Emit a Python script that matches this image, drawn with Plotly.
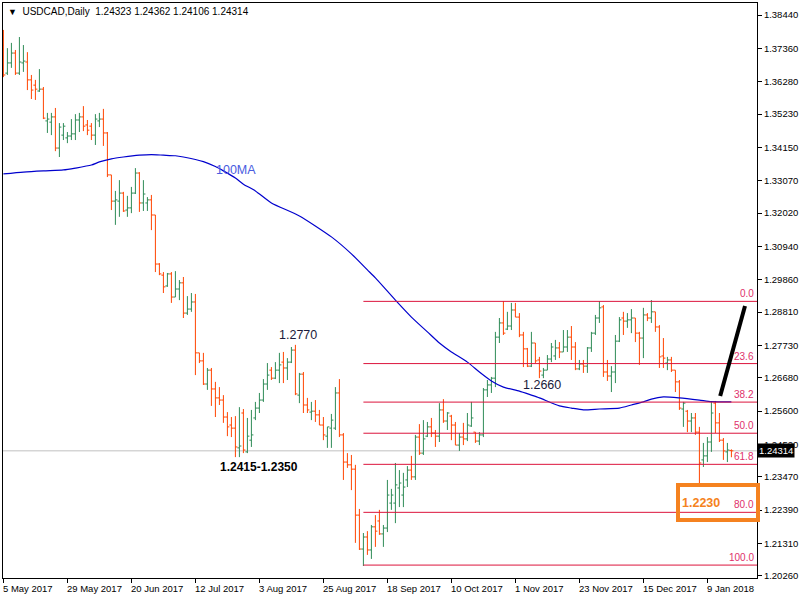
import plotly.graph_objects as go

# ---------------- data (USDCAD daily) ----------------
open_ = [1.3747,1.3656,1.3689,1.3721,1.3656,1.3689,1.3692,1.3634,1.3617,1.3598,
         1.3604,1.3501,1.3497,1.3514,1.3413,1.3455,1.3446,1.3452,1.3459,1.3504,
         1.3514,1.3488,1.3484,1.3455,1.3501,1.3507,1.3462,1.3326,1.3241,1.3241,
         1.3267,1.3212,1.3219,1.3267,1.3332,1.3235,1.3235,1.3245,1.3196,1.3037,
         1.3001,1.2966,1.3005,1.2930,1.2956,1.2976,1.2878,1.2891,1.2914,1.2749,
         1.2723,1.2648,1.2693,1.2632,1.2603,1.2596,1.2541,1.2515,1.2505,1.2441,
         1.2554,1.2428,1.2466,1.2538,1.2570,1.2596,1.2648,1.2693,1.2667,1.2693,
         1.2719,1.2700,1.2719,1.2758,1.2612,1.2680,1.2580,1.2557,1.2560,1.2548,
         1.2515,1.2479,1.2505,1.2505,1.2619,1.2483,1.2395,1.2386,1.2372,1.2223,
         1.2113,1.2152,1.2110,1.2185,1.2204,1.2162,1.2181,1.2262,1.2262,1.2311,
         1.2288,1.2337,1.2369,1.2347,1.2476,1.2424,1.2479,1.2509,1.2489,1.2479,
         1.2564,1.2528,1.2544,1.2515,1.2450,1.2476,1.2470,1.2512,1.2492,1.2463,
         1.2483,1.2629,1.2645,1.2667,1.2800,1.2846,1.2826,1.2836,1.2888,1.2865,
         1.2807,1.2762,1.2706,1.2781,1.2726,1.2677,1.2693,1.2729,1.2739,1.2765,
         1.2752,1.2768,1.2800,1.2768,1.2697,1.2713,1.2706,1.2765,1.2813,1.2862,
         1.2898,1.2687,1.2674,1.2687,1.2787,1.2862,1.2852,1.2856,1.2862,1.2813,
         1.2797,1.2872,1.2862,1.2882,1.2833,1.2739,1.2716,1.2726,1.2693,1.2655,
         1.2567,1.2560,1.2528,1.2538,1.2492,1.2402,1.2415,1.2460,1.2586,1.2522,
         1.2466,1.2428,1.24323]
high = [1.3796,1.3737,1.3754,1.3731,1.3773,1.3747,1.3724,1.3650,1.3634,1.3669,
        1.3611,1.3527,1.3527,1.3543,1.3494,1.3494,1.3465,1.3507,1.3523,1.3527,
        1.3549,1.3504,1.3494,1.3523,1.3527,1.3540,1.3465,1.3326,1.3274,1.3309,
        1.3271,1.3258,1.3287,1.3348,1.3335,1.3309,1.3254,1.3261,1.3196,1.3040,
        1.3011,1.3008,1.3011,1.3014,1.2985,1.2995,1.2933,1.2943,1.2940,1.2749,
        1.2749,1.2700,1.2700,1.2655,1.2638,1.2612,1.2557,1.2541,1.2544,1.2573,
        1.2567,1.2538,1.2564,1.2590,1.2619,1.2664,1.2716,1.2703,1.2719,1.2749,
        1.2752,1.2732,1.2768,1.2775,1.2684,1.2687,1.2603,1.2590,1.2596,1.2564,
        1.2541,1.2509,1.2551,1.2638,1.2664,1.2489,1.2424,1.2418,1.2386,1.2243,
        1.2165,1.2171,1.2191,1.2223,1.2240,1.2191,1.2337,1.2308,1.2392,1.2369,
        1.2360,1.2382,1.2415,1.2483,1.2518,1.2531,1.2525,1.2538,1.2499,1.2586,
        1.2599,1.2557,1.2548,1.2525,1.2489,1.2522,1.2554,1.2590,1.2492,1.2492,
        1.2635,1.2661,1.2671,1.2817,1.2862,1.2917,1.2882,1.2911,1.2911,1.2878,
        1.2817,1.2765,1.2817,1.2781,1.2736,1.2700,1.2742,1.2781,1.2791,1.2784,
        1.2823,1.2823,1.2836,1.2784,1.2726,1.2726,1.2768,1.2817,1.2872,1.2917,
        1.2904,1.2726,1.2706,1.2807,1.2865,1.2882,1.2878,1.2891,1.2862,1.2817,
        1.2895,1.2878,1.2920,1.2882,1.2839,1.2797,1.2736,1.2736,1.2693,1.2661,
        1.2590,1.2564,1.2554,1.2554,1.2509,1.2457,1.2476,1.2590,1.2593,1.2554,
        1.2473,1.2457,1.24362]
low = [1.3643,1.3650,1.3673,1.3650,1.3650,1.3660,1.3601,1.3572,1.3569,1.3595,
       1.3507,1.3462,1.3455,1.3403,1.3384,1.3439,1.3429,1.3439,1.3439,1.3465,
       1.3468,1.3455,1.3439,1.3423,1.3481,1.3420,1.3319,1.3212,1.3164,1.3190,
       1.3206,1.3190,1.3202,1.3264,1.3206,1.3209,1.3209,1.3147,1.3011,1.3001,
       1.2943,1.2963,1.2911,1.2930,1.2920,1.2862,1.2872,1.2882,1.2677,1.2716,
       1.2645,1.2629,1.2577,1.2541,1.2580,1.2522,1.2479,1.2476,1.2411,1.2411,
       1.2424,1.2424,1.2444,1.2531,1.2554,1.2590,1.2629,1.2661,1.2664,1.2651,
       1.2651,1.2661,1.2716,1.2612,1.2586,1.2554,1.2554,1.2531,1.2525,1.2515,
       1.2466,1.2441,1.2441,1.2499,1.2476,1.2337,1.2376,1.2304,1.2133,1.2110,
       1.2058,1.2094,1.2081,1.2120,1.2159,1.2120,1.2168,1.2240,1.2197,1.2249,
       1.2249,1.2314,1.2337,1.2337,1.2418,1.2418,1.2476,1.2476,1.2444,1.2460,
       1.2522,1.2499,1.2466,1.2450,1.2431,1.2450,1.2463,1.2509,1.2457,1.2450,
       1.2476,1.2606,1.2619,1.2638,1.2781,1.2807,1.2823,1.2823,1.2865,1.2800,
       1.2703,1.2703,1.2703,1.2716,1.2667,1.2667,1.2693,1.2719,1.2726,1.2732,
       1.2752,1.2752,1.2726,1.2693,1.2693,1.2684,1.2684,1.2752,1.2807,1.2846,
       1.2671,1.2658,1.2622,1.2651,1.2784,1.2807,1.2830,1.2813,1.2784,1.2710,
       1.2732,1.2852,1.2846,1.2817,1.2700,1.2700,1.2693,1.2687,1.2622,1.2564,
       1.2509,1.2492,1.2492,1.2483,1.2327,1.2379,1.2395,1.2428,1.2489,1.2460,
       1.2402,1.2395,1.24106]
close = [1.3650,1.3689,1.3721,1.3656,1.3692,1.3695,1.3634,1.3601,1.3604,1.3604,
         1.3510,1.3507,1.3514,1.3413,1.3481,1.3484,1.3452,1.3459,1.3504,1.3514,
         1.3484,1.3471,1.3455,1.3507,1.3507,1.3462,1.3326,1.3241,1.3245,1.3267,
         1.3209,1.3219,1.3267,1.3332,1.3235,1.3264,1.3245,1.3196,1.3037,1.3005,
         1.2963,1.3005,1.2930,1.2956,1.2976,1.2878,1.2891,1.2914,1.2749,1.2723,
         1.2648,1.2693,1.2632,1.2603,1.2596,1.2541,1.2509,1.2505,1.2444,1.2447,
         1.2434,1.2479,1.2483,1.2570,1.2596,1.2648,1.2677,1.2667,1.2693,1.2710,
         1.2700,1.2719,1.2758,1.2616,1.2680,1.2580,1.2564,1.2560,1.2548,1.2515,
         1.2483,1.2509,1.2531,1.2619,1.2483,1.2395,1.2386,1.2372,1.2223,1.2113,
         1.2152,1.2110,1.2185,1.2171,1.2162,1.2181,1.2288,1.2288,1.2321,1.2327,
         1.2314,1.2369,1.2347,1.2476,1.2424,1.2470,1.2509,1.2489,1.2479,1.2564,
         1.2528,1.2554,1.2515,1.2450,1.2476,1.2470,1.2515,1.2538,1.2463,1.2483,
         1.2629,1.2645,1.2667,1.2800,1.2846,1.2813,1.2836,1.2888,1.2865,1.2807,
         1.2762,1.2706,1.2781,1.2723,1.2690,1.2693,1.2729,1.2768,1.2765,1.2752,
         1.2768,1.2800,1.2768,1.2697,1.2713,1.2706,1.2765,1.2813,1.2862,1.2895,
         1.2687,1.2674,1.2687,1.2787,1.2856,1.2852,1.2856,1.2862,1.2813,1.2797,
         1.2872,1.2862,1.2882,1.2833,1.2736,1.2732,1.2726,1.2693,1.2655,1.2570,
         1.2586,1.2528,1.2538,1.2492,1.2392,1.2415,1.2460,1.2554,1.2522,1.2466,
         1.2431,1.2434,1.24314]

# 100-day moving average, read at sample bars
ma_idx = [0,5,10,15,18,22,24,27,30,34,37,40,43,45,48,50,53,55,58,60,
          63,67,74,82,87,91,93,98,102,106,109,112,116,119,122,125,129,132,134,139,
          142,145,149,154,157,160,162,165,169,174,177,182]
ma_val = [1.3329,1.3335,1.3339,1.3342,1.3348,1.3358,1.3368,1.3378,1.3384,1.3390,
          1.3392,1.3390,1.3388,1.3384,1.3376,1.3369,1.3353,1.3339,1.3316,1.3296,
          1.3274,1.3235,1.3193,1.3125,1.3070,1.3018,1.2992,1.2920,1.2865,1.2817,
          1.2781,1.2752,1.2719,1.2687,1.2658,1.2638,1.2625,1.2612,1.2603,1.2577,
          1.2570,1.2564,1.2567,1.2570,1.2580,1.2590,1.2599,1.2606,1.2603,1.2596,
          1.2591,1.2590]

# x axis (bar index) labels
date_tick_idx = [0,16,32,48,64,80,96,112,128,144,160,176]
date_tick_txt = ["5 May 2017","29 May 2017","20 Jun 2017","12 Jul 2017","3 Aug 2017",
                 "25 Aug 2017","18 Sep 2017","10 Oct 2017","1 Nov 2017","23 Nov 2017",
                 "15 Dec 2017","9 Jan 2018"]
y_ticks = [1.38440,1.37360,1.36280,1.35230,1.34150,1.33070,1.32020,1.30940,1.29860,
           1.28810,1.27730,1.26680,1.25600,1.24520,1.23470,1.22390,1.21310,1.20260]

# Fibonacci retracement
fib_high = 1.2916
fib_low = 1.2061
fib_start_idx = 90
fib_ratios = [0.0, 23.6, 38.2, 50.0, 61.8, 80.0, 100.0]

# annotations (text, bar index, price)
notes = [("100MA", 58.2, 1.3342), ("1.2770", 73.7, 1.2807),
         ("1.2660", 134.7, 1.2645)]
support_note = ("1.2415-1.2350", 63.9, 1.2379)
target_note = ("1.2230", 178.7, 1.2264)
arrow_start = (179.2, 1.2609)
arrow_end = (185.4, 1.2901)

x_range = [-0.1, 188.4]
y_range = [1.20191, 1.38833]

# ---------------- figure ----------------
n = len(close)
idx = list(range(n))
AX_FONT = "Liberation Sans, Arial, sans-serif"
FIB_COL = "#DC143C"

fig = go.Figure()
fig.add_trace(go.Ohlc(
    x=idx, open=open_, high=high, low=low, close=close,
    increasing=dict(line=dict(color="#2E8B57", width=1)),
    decreasing=dict(line=dict(color="#FF4500", width=1)),
    tickwidth=0.5, hoverinfo="skip", showlegend=False))
fig.add_trace(go.Scatter(
    x=ma_idx, y=ma_val, mode="lines",
    line=dict(color="#0000CD", width=1.2, shape="spline", smoothing=0.6),
    hoverinfo="skip", showlegend=False))

shapes = []
annotations = []

# current price line
shapes.append(dict(type="line", xref="paper", x0=0, x1=1, yref="y",
                   y0=close[-1], y1=close[-1], layer="below",
                   line=dict(color="#C0C0C0", width=1)))

# fib levels
for r in fib_ratios:
    lvl = fib_high - (fib_high - fib_low) * r / 100.0
    shapes.append(dict(type="line", xref="x", x0=fib_start_idx, x1=x_range[1],
                       yref="y", y0=lvl, y1=lvl,
                       line=dict(color=FIB_COL, width=1)))
    annotations.append(dict(x=1, xref="paper", xanchor="right", xshift=-1,
                            y=lvl, yref="y", yanchor="bottom", yshift=0,
                            text=f"{r:.1f}", showarrow=False,
                            font=dict(family=AX_FONT, size=10, color="#E0306A")))

# black trend stroke
shapes.append(dict(type="line", xref="x", yref="y",
                   x0=arrow_start[0], y0=arrow_start[1],
                   x1=arrow_end[0], y1=arrow_end[1],
                   line=dict(color="black", width=4)))

# header
annotations.append(dict(
    x=0, xref="paper", xanchor="left", xshift=3, y=1, yref="paper",
    yanchor="top", yshift=-1, showarrow=False, align="left",
    text=("<span style='font-size:9px'>▼</span>  USDCAD,Daily  "
          f"{open_[-1]:.5f} {high[-1]:.5f} {low[-1]:.5f} {close[-1]:.5f}"),
    font=dict(family=AX_FONT, size=10, color="black")))

# text notes
for t, xi, yv in notes:
    col = "#4A5CE0" if t == "100MA" else "#1A1A3A"
    annotations.append(dict(x=xi, y=yv, xref="x", yref="y", text=t,
                            showarrow=False,
                            font=dict(family=AX_FONT, size=12.5, color=col)))
annotations.append(dict(x=support_note[1], y=support_note[2], xref="x", yref="y",
                        text=f"<b>{support_note[0]}</b>", showarrow=False,
                        font=dict(family=AX_FONT, size=12, color="black")))
annotations.append(dict(x=target_note[1], y=target_note[2], xref="x", yref="y",
                        text=f"<b>{target_note[0]}</b>", showarrow=False,
                        align="left", width=72, height=27, borderpad=2,
                        bordercolor="#F58220", borderwidth=4,
                        font=dict(family=AX_FONT, size=12.5, color="#F58220")))

# x date labels (left aligned at tick)
for ti, tt in zip(date_tick_idx, date_tick_txt):
    annotations.append(dict(x=ti, xref="x", xanchor="left", xshift=-2,
                            y=0, yref="paper", yanchor="top", yshift=-3,
                            text=tt, showarrow=False,
                            font=dict(family=AX_FONT, size=9.5, color="black")))

# last price box on the axis
annotations.append(dict(x=1, xref="paper", xanchor="left", xshift=0,
                        y=close[-1], yref="y", text=f"{close[-1]:.5f}",
                        showarrow=False, bgcolor="black", borderpad=1,
                        font=dict(family=AX_FONT, size=9.5, color="white")))

fig.update_layout(
    width=800, height=600,
    margin=dict(l=3, r=43, t=3, b=22, autoexpand=False),
    paper_bgcolor="white", plot_bgcolor="white",
    shapes=shapes, annotations=annotations,
    xaxis=dict(range=x_range, tickvals=date_tick_idx, showticklabels=False,
               ticks="outside", ticklen=4, tickcolor="black", automargin=False,
               showline=True, linecolor="black", linewidth=1, mirror=True,
               showgrid=False, zeroline=False, rangeslider=dict(visible=False)),
    yaxis=dict(range=y_range, side="right", automargin=False,
               tickvals=y_ticks, ticktext=[f"{v:.5f}" for v in y_ticks],
               ticks="outside", ticklen=4, tickcolor="black",
               showline=True, linecolor="black", linewidth=1, mirror=True,
               showgrid=False, zeroline=False,
               tickfont=dict(family=AX_FONT, size=9.5, color="black")),
)

fig.write_html("out.html",
               config={"displayModeBar": False},
               post_script="document.body.style.margin='0px';"
                           "document.body.style.padding='0px';")
